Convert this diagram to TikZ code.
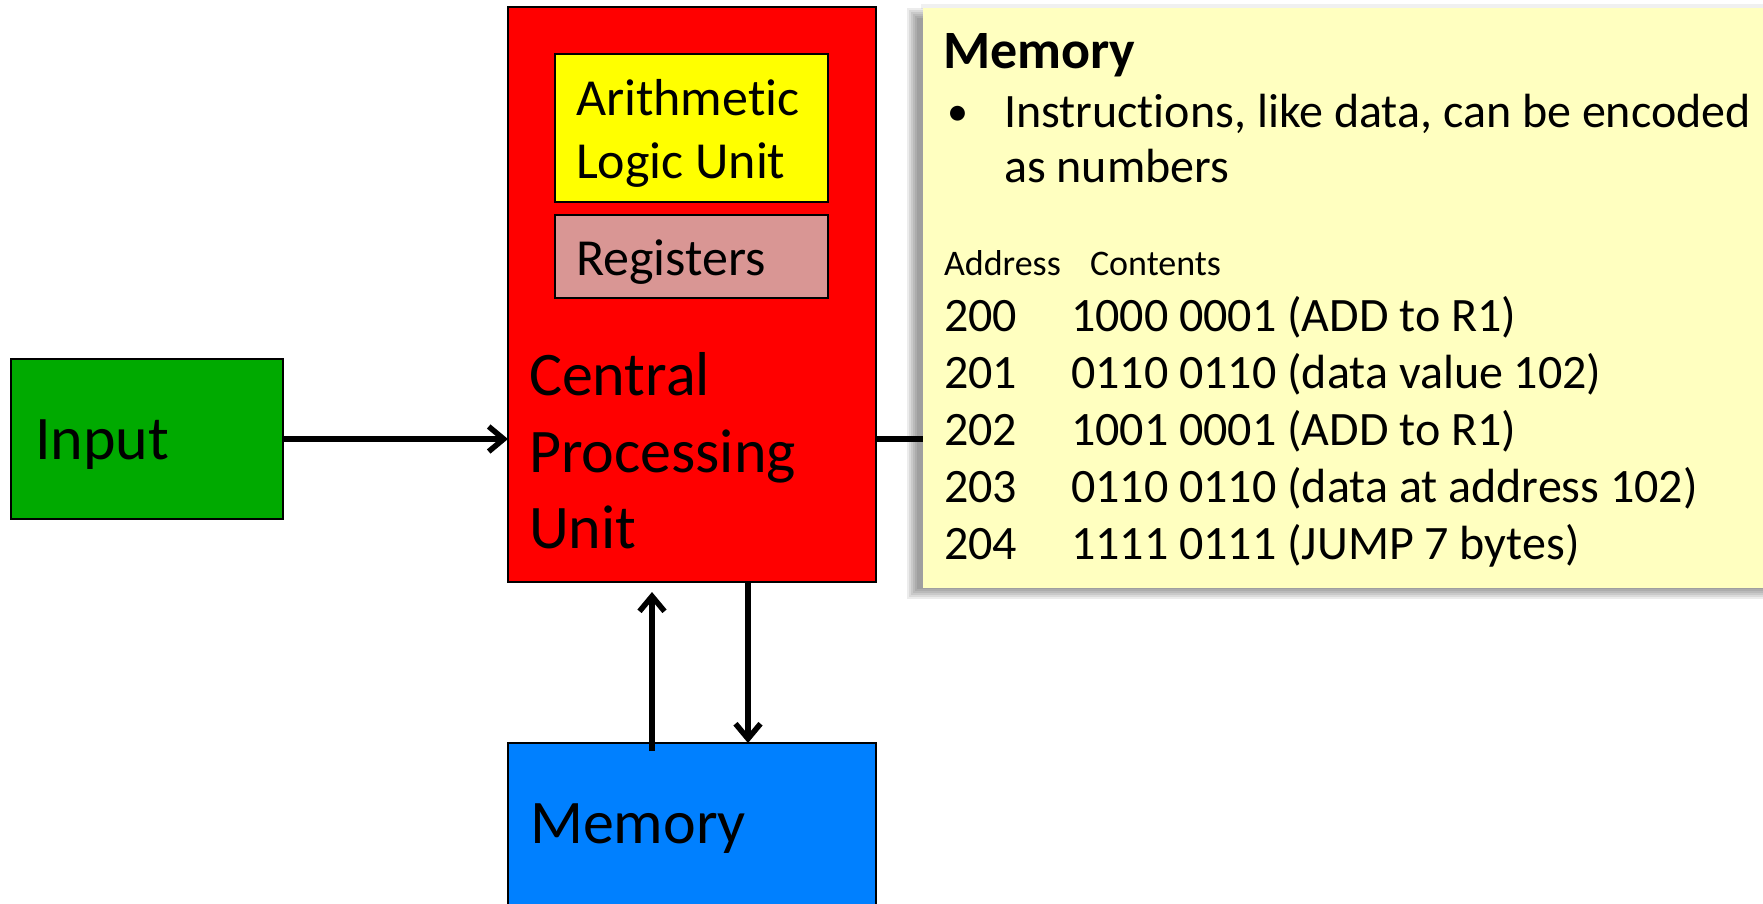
\documentclass[tikz,border=0pt]{standalone}
\usepackage{fontspec}
\setmainfont{Carlito}[Ligatures=NoCommon]
\usetikzlibrary{arrows.meta,calc}

\definecolor{inputgreen}{RGB}{0,170,0}
\definecolor{cpured}{RGB}{255,0,0}
\definecolor{aluyellow}{RGB}{255,255,0}
\definecolor{regpink}{RGB}{217,150,148}
\definecolor{memblue}{RGB}{0,128,255}
\definecolor{notefill}{RGB}{255,255,192}

\tikzset{
  box/.style={draw=black, line width=2pt, inner sep=0pt, outer sep=0pt, anchor=north west},
  lbl/.style={inner sep=0pt, outer sep=0pt, anchor=base west, text=black},
  big/.style={lbl, font=\fontsize{62}{74}\selectfont},
  mid/.style={lbl, font=\fontsize{52}{62}\selectfont},
  row/.style={lbl, font=\fontsize{48}{57}\selectfont},
  arr/.style={line width=5.5pt, -{Straight Barb[length=15pt,width=25pt]}},
  wire/.style={line width=5.5pt},
}

\begin{document}
\begin{tikzpicture}[x=1pt,y=-1pt]
\useasboundingbox (0,0) rectangle (1763,903);
\fill[white] (0,0) rectangle (1763,903);

% functional units
\node[box, fill=inputgreen, minimum width=272pt, minimum height=160pt] (inp) at (11,359) {};
\node[box, fill=cpured, minimum width=368pt, minimum height=575pt] (cpu) at (508,7) {};
\node[box, fill=aluyellow, minimum width=273pt, minimum height=148pt] (alu) at (555,54) {};
\node[box, fill=regpink, minimum width=273pt, minimum height=83pt] (reg) at (555,215) {};
\node[box, fill=memblue, minimum width=368pt, minimum height=190pt] (mem) at (508,743) {};

% unit labels
\node[big] (inptxt) at (35,459) {Input};
\node[big] (cpuA) at (529,395) {Central};
\node[big] (cpuB) at (529,472) {Processing};
\node[big] (cpuC) at (529,548) {Unit};
\node[mid] (aluA) at (576,115) {Arithmetic};
\node[mid] (aluB) at (576,178) {Logic Unit};
\node[mid] (regtxt) at (576,275) {Registers};
\node[big] (memtxt) at (530,843) {Memory};

% data paths
\draw[arr] (inp.east) -- (inp.east -| cpu.west);
\draw[arr] ($(mem.north)+(-40,8)$) -- ($(cpu.south)+(-40,10)$);
\draw[arr] ($(cpu.south)+(56,0)$) -- ($(mem.north)+(56,0)$);
\coordinate (outend) at (940,439);
\draw[wire] (inp.east -| cpu.east) -- (outend);

% callout with soft drop shadow
\foreach \i in {0,...,5} {
  \fill[black, opacity=0.075] (907+2*\i,8+2*\i) rectangle (1790,599-2*\i);
}
\fill[black, opacity=0.06] (921,4) rectangle (1790,9);
\node[anchor=north west, fill=notefill, inner sep=0pt, outer sep=0pt,
      minimum width=860pt, minimum height=580pt] (note) at (923,8) {};

\node[lbl, font=\fontsize{54}{64}\selectfont\bfseries] (notetitle) at (943,68) {Memory};
\node[row, font=\fontsize{42}{50}\selectfont] (bullet) at (947,125) {•};
\node[row] (lineA) at (1004,127) {Instructions, like data, can be encoded};
\node[row] (lineB) at (1004,182) {as numbers};
\node[lbl, font=\fontsize{36}{43}\selectfont] (hdA) at (944,275) {Address};
\node[lbl, font=\fontsize{36}{43}\selectfont] (hdB) at (1090,275) {Contents};

\node[row] (a0) at (944,331) {200};
\node[row] (c0) at (1071,331) {1000 0001 (ADD to R1)};
\node[row] (a1) at (944,388) {201};
\node[row] (c1) at (1071,388) {0110 0110 (data value 102)};
\node[row] (a2) at (944,445) {202};
\node[row] (c2) at (1071,445) {1001 0001 (ADD to R1)};
\node[row] (a3) at (944,502) {203};
\node[row] (c3) at (1071,502) {0110 0110 (data at address 102)};
\node[row] (a4) at (944,559) {204};
\node[row] (c4) at (1071,559) {1111 0111 (JUMP 7 bytes)};
\end{tikzpicture}
\end{document}
